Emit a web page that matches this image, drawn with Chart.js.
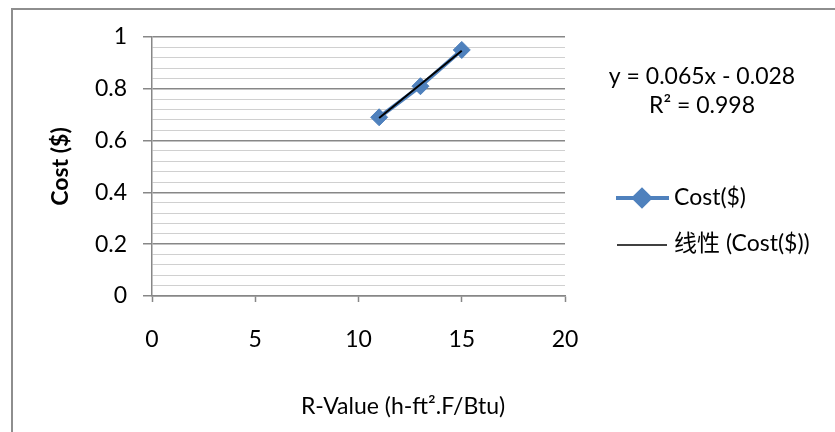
<!DOCTYPE html>
<html>
<head>
<meta charset="utf-8">
<script src="https://cdn.jsdelivr.net/npm/chart.js@4/dist/chart.umd.min.js"></script>
<style>
    body { margin: 0; background: #fff; }
</style>
</head>
<body>
<canvas id="myChart" width="835" height="432"></canvas>
<script>
var rValues = [11, 13, 15];
var costs = [0.69, 0.81, 0.95];
var trendX = [11, 15];
var trendY = [0.687, 0.947];
var xTicks = [0, 5, 10, 15, 20];
var yMajor = [0, 0.2, 0.4, 0.6, 0.8, 1];
var yMinorPerMajor = 5;
var seriesLabel = "Cost($)";
var trendLabel = "线性 (Cost($))";
var equationLines = ["y = 0.065x - 0.028", "R² = 0.998"];

var FONT = "Lato, 'Noto Sans CJK SC', sans-serif";
var FSIZE = 23;
var majorGray = "#878787";
var minorGray = "#d0d0d0";

function isMajor(v) {
    return yMajor.some(function (m) { return Math.abs(m - v) < 1e-6; });
}

function toPoints(xs, ys) {
    return xs.map(function (x, i) { return { x: x, y: ys[i] }; });
}

// major ticks plus the minor gridlines between them
function yGridTicks() {
    var ticks = [];
    yMajor.forEach(function (m, i) {
        ticks.push({ value: m });
        if (i < yMajor.length - 1) {
            var step = (yMajor[i + 1] - m) / yMinorPerMajor;
            for (var k = 1; k < yMinorPerMajor; k++) {
                ticks.push({ value: m + step * k });
            }
        }
    });
    return ticks;
}

var framePlugin = {
    id: "frame",
    beforeDraw: function (chart) {
        var ctx = chart.ctx;
        ctx.save();
        ctx.fillStyle = "#fff";
        ctx.fillRect(0, 0, chart.width, chart.height);
        ctx.strokeStyle = "#8e8e8e";
        ctx.lineWidth = 2;
        ctx.beginPath();
        ctx.moveTo(12, chart.height);
        ctx.lineTo(12, 9);
        ctx.lineTo(chart.width, 9);
        ctx.stroke();
        ctx.restore();
    },
    afterDraw: function (chart) {
        var ctx = chart.ctx;
        var ds = chart.data.datasets;
        ctx.save();
        ctx.font = FSIZE + "px " + FONT;
        ctx.fillStyle = "#000";
        ctx.textBaseline = "middle";

        // x axis title
        ctx.textAlign = "center";
        ctx.fillText("R-Value (h-ft².F/Btu)", 403, 407);

        // trendline equation
        ctx.fillText(equationLines[0], 702, 77);
        ctx.fillText(equationLines[1], 702, 106);

        // legend
        ctx.textAlign = "left";
        ctx.strokeStyle = ds[1].borderColor;
        ctx.lineWidth = ds[1].borderWidth;
        ctx.beginPath();
        ctx.moveTo(616, 198);
        ctx.lineTo(669, 198);
        ctx.stroke();
        Chart.helpers.drawPoint(ctx, {
            pointStyle: "rectRot",
            radius: 8,
            borderWidth: 1
        }, 642, 198);
        ctx.fillStyle = ds[1].borderColor;
        ctx.fill();
        ctx.fillStyle = "#000";
        ctx.fillText(ds[1].label, 674, 198);

        ctx.strokeStyle = ds[0].borderColor;
        ctx.lineWidth = 1.5;
        ctx.beginPath();
        ctx.moveTo(617, 245);
        ctx.lineTo(667, 245);
        ctx.stroke();
        ctx.fillText(ds[0].label, 674, 244);
        ctx.restore();
    }
};

var ctx = document.getElementById("myChart").getContext("2d");
var myChart = new Chart(ctx, {
    type: "scatter",
    data: {
        datasets: [
            {
                label: trendLabel,
                data: toPoints(trendX, trendY),
                showLine: true,
                borderColor: "#000",
                borderWidth: 2,
                pointRadius: 0,
                order: 0
            },
            {
                label: seriesLabel,
                data: toPoints(rValues, costs),
                showLine: true,
                borderColor: "#4f81bd",
                backgroundColor: "#4f81bd",
                borderWidth: 4,
                pointStyle: "rectRot",
                pointRadius: 8.5,
                pointBorderWidth: 1,
                pointBackgroundColor: "#4f81bd",
                pointBorderColor: "#4f81bd",
                order: 1
            }
        ]
    },
    options: {
        responsive: false,
        animation: false,
        layout: {
            padding: { top: 37, right: 270, bottom: 0, left: 0 }
        },
        plugins: {
            legend: { display: false },
            tooltip: { enabled: false }
        },
        scales: {
            x: {
                type: "linear",
                min: 0,
                max: 20,
                afterFit: function (scale) { scale.height = 136; },
                afterBuildTicks: function (scale) {
                    scale.ticks = xTicks.map(function (v) { return { value: v }; });
                },
                border: { display: true, color: majorGray, width: 1.5 },
                grid: {
                    drawOnChartArea: false,
                    drawTicks: true,
                    tickLength: 6,
                    tickColor: majorGray,
                    tickWidth: 1.5
                },
                ticks: {
                    padding: 24,
                    color: "#000",
                    font: { family: FONT, size: FSIZE }
                }
            },
            y: {
                min: 0,
                max: 1,
                afterFit: function (scale) { scale.width = 152; },
                afterBuildTicks: function (scale) { scale.ticks = yGridTicks(); },
                border: { display: true, color: majorGray, width: 1.5 },
                grid: {
                    color: function (c) { return isMajor(c.tick.value) ? majorGray : minorGray; },
                    lineWidth: function (c) { return isMajor(c.tick.value) ? 1.5 : 1; },
                    tickColor: function (c) { return isMajor(c.tick.value) ? majorGray : "rgba(0,0,0,0)"; },
                    tickLength: 9,
                    tickWidth: 1.5
                },
                ticks: {
                    autoSkip: false,
                    padding: 16,
                    color: "#000",
                    font: { family: FONT, size: FSIZE },
                    callback: function (v) { return isMajor(v) ? String(Math.round(v * 10) / 10) : ""; }
                },
                title: {
                    display: true,
                    text: "Cost ($)",
                    color: "#000",
                    font: { family: FONT, size: FSIZE, weight: "bold" },
                    padding: { top: 47, bottom: 0 }
                }
            }
        }
    },
    plugins: [framePlugin]
});
</script>
</body>
</html>
